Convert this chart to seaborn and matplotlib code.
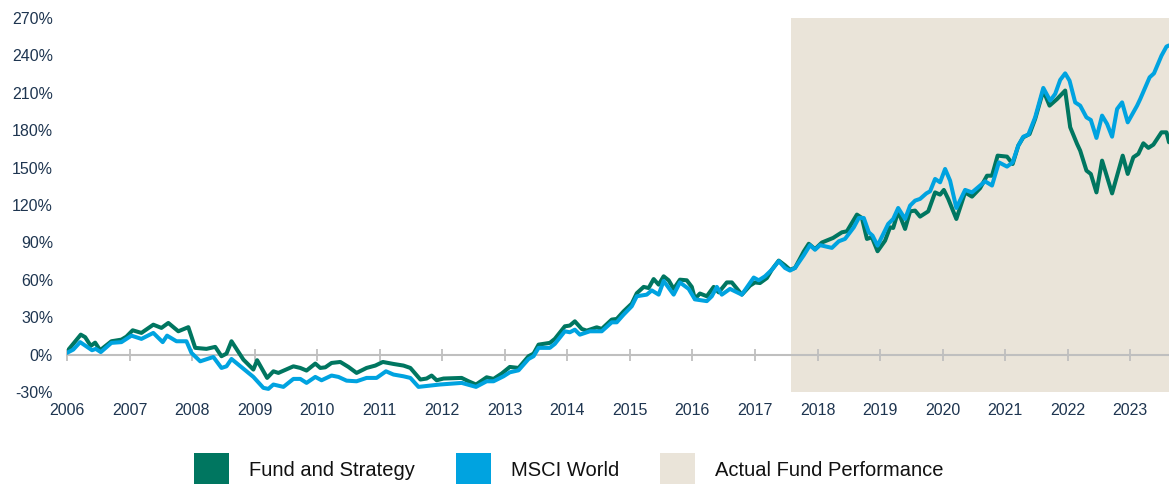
import pandas as pd
import matplotlib
matplotlib.use("Agg")
import matplotlib.pyplot as plt
from matplotlib.patches import Patch
import seaborn as sns

# === DATA (cumulative return, %) ===
fund_t = [2006.00, 2006.22, 2006.29, 2006.38, 2006.45, 2006.53, 2006.71, 2006.87, 2006.95,
          2007.05, 2007.19, 2007.38, 2007.51, 2007.62, 2007.78, 2007.94, 2008.05, 2008.23,
          2008.37, 2008.47, 2008.55, 2008.63, 2008.82, 2008.98, 2009.04, 2009.20, 2009.30,
          2009.38, 2009.62, 2009.73, 2009.83, 2009.97, 2010.05, 2010.13, 2010.23, 2010.37,
          2010.50, 2010.63, 2010.79, 2010.93, 2011.05, 2011.22, 2011.38, 2011.49, 2011.65,
          2011.75, 2011.83, 2011.91, 2012.02, 2012.31, 2012.42, 2012.54, 2012.71, 2012.82,
          2012.95, 2013.08, 2013.22, 2013.38, 2013.46, 2013.54, 2013.72, 2013.80, 2013.96,
          2014.04, 2014.12, 2014.23, 2014.31, 2014.47, 2014.55, 2014.71, 2014.79, 2014.90,
          2015.03, 2015.11, 2015.22, 2015.30, 2015.38, 2015.46, 2015.54, 2015.62, 2015.70,
          2015.80, 2015.91, 2015.99, 2016.04, 2016.12, 2016.23, 2016.34, 2016.42, 2016.55,
          2016.63, 2016.79, 2016.92, 2017.00, 2017.08, 2017.19, 2017.27, 2017.38, 2017.48,
          2017.56, 2017.64, 2017.78, 2017.86, 2017.96, 2018.07, 2018.25, 2018.39, 2018.47,
          2018.63, 2018.71, 2018.79, 2018.87, 2018.96, 2019.08, 2019.16, 2019.21, 2019.29,
          2019.40, 2019.48, 2019.56, 2019.64, 2019.77, 2019.88, 2019.96, 2020.02, 2020.09,
          2020.22, 2020.36, 2020.47, 2020.60, 2020.71, 2020.79, 2020.88, 2021.03, 2021.12,
          2021.21, 2021.29, 2021.39, 2021.48, 2021.61, 2021.71, 2021.83, 2021.96, 2022.04,
          2022.15, 2022.20, 2022.30, 2022.37, 2022.46, 2022.55, 2022.71, 2022.88, 2022.96,
          2023.05, 2023.13, 2023.21, 2023.29, 2023.37, 2023.50, 2023.58, 2023.62]
fund_v = [2.5, 16, 14, 7, 9.6, 3.5, 10.7, 12, 14.4,
          19.5, 17.4, 24, 21.4, 25.4, 18.7, 22, 5.4, 4.6,
          6.2, -1.3, 0.8, 10.7, -4, -12, -4.5, -18.7, -13.4,
          -14.7, -9.4, -10.7, -12.8, -7.2, -10.7, -10.2, -6.7, -5.9,
          -9.9, -14.7, -10.7, -8.8, -5.9, -7.5, -8.8, -10.7, -20,
          -19.2, -16.8, -20.6, -19.2, -18.7, -21.4, -24, -18.2, -19.5,
          -15.2, -9.9, -10.7, -1.3, 0.8, 8, 9.4, 12.6, 22.7,
          23.3, 26.7, 20.6, 19.2, 21.9, 20.6, 28.1, 28.6, 34.7,
          40.9, 49.2, 54.3, 53.4, 60.6, 56.1, 62.8, 59.6, 52.7,
          60.1, 59.6, 54.3, 44.7, 49, 46.8, 54.3, 49.9, 57.9,
          57.9, 48.1, 55.3, 57.9, 57.4, 61.4, 68.1, 75.4, 71.6,
          68.1, 69.5, 82.7, 88.9, 84.6, 89.9, 93.6, 98.1, 98.9,
          112.3, 109.6, 92.8, 94.1, 82.9, 91.4, 102.1, 101.6, 114.9,
          100.8, 114.9, 115.5, 110.7, 114.9, 130.1, 128.3, 132.1, 124.9,
          108.8, 130.1, 126.7, 133.5, 143.5, 143.5, 159.6, 158.8, 152.9,
          167.6, 174.3, 176.9, 189, 211.8, 199.7, 205, 211.8, 182.4,
          169, 163.6, 147.6, 144.9, 130.1, 155.6, 129.3, 159.6, 144.9,
          158.3, 161, 169.5, 165.8, 168.4, 178.3, 178.3, 170.3]

msci_t = [2006.00, 2006.10, 2006.21, 2006.40, 2006.46, 2006.54, 2006.71, 2006.87, 2007.03,
          2007.19, 2007.38, 2007.53, 2007.60, 2007.75, 2007.91, 2007.99, 2008.13, 2008.34,
          2008.47, 2008.55, 2008.63, 2008.87, 2008.98, 2009.14, 2009.22, 2009.30, 2009.46,
          2009.62, 2009.73, 2009.83, 2009.97, 2010.07, 2010.23, 2010.34, 2010.47, 2010.63,
          2010.79, 2010.95, 2011.10, 2011.22, 2011.38, 2011.49, 2011.62, 2011.80, 2011.96,
          2012.31, 2012.54, 2012.71, 2012.82, 2012.98, 2013.08, 2013.22, 2013.38, 2013.46,
          2013.54, 2013.72, 2013.80, 2013.96, 2014.04, 2014.12, 2014.20, 2014.36, 2014.55,
          2014.71, 2014.79, 2014.90, 2015.03, 2015.11, 2015.27, 2015.35, 2015.46, 2015.54,
          2015.70, 2015.80, 2015.94, 2016.04, 2016.23, 2016.31, 2016.39, 2016.47, 2016.60,
          2016.79, 2016.98, 2017.06, 2017.16, 2017.27, 2017.38, 2017.48, 2017.56, 2017.64,
          2017.78, 2017.88, 2017.96, 2018.04, 2018.23, 2018.34, 2018.44, 2018.58, 2018.66,
          2018.74, 2018.82, 2018.88, 2018.96, 2019.13, 2019.21, 2019.29, 2019.40, 2019.48,
          2019.56, 2019.64, 2019.74, 2019.80, 2019.88, 2019.96, 2020.04, 2020.12, 2020.22,
          2020.36, 2020.47, 2020.60, 2020.68, 2020.79, 2020.90, 2021.03, 2021.12, 2021.21,
          2021.29, 2021.37, 2021.48, 2021.61, 2021.72, 2021.80, 2021.88, 2021.96, 2022.03,
          2022.12, 2022.20, 2022.30, 2022.37, 2022.46, 2022.55, 2022.63, 2022.71, 2022.79,
          2022.87, 2022.96, 2023.11, 2023.16, 2023.31, 2023.38, 2023.50, 2023.58, 2023.62]
msci_v = [1.4, 4, 10, 3.5, 4.6, 2, 9.4, 10, 15.2,
          12.6, 17.4, 10, 15.2, 10.7, 10.7, 1.4, -5.4, -1.9,
          -10.7, -9.4, -3.5, -13.4, -17.9, -26.7, -27.5, -24, -25.9,
          -19.5, -19.5, -22.7, -17.9, -20.6, -16.8, -17.9, -20.9, -21.4,
          -18.7, -18.7, -13.4, -16, -17.4, -18.7, -25.9, -24.9, -24,
          -22.7, -25.9, -21.4, -21.4, -17.4, -14.2, -12.6, -3.5, -1.3,
          5.4, 5.4, 8.6, 18.7, 17.9, 20, 16, 18.7, 18.7,
          25.9, 25.9, 32.1, 38.8, 46.8, 48.1, 51.5, 48.1, 59.1,
          48.1, 57.9, 52.7, 44.3, 42.9, 46.8, 54.3, 48.1, 52.7,
          48.1, 61.8, 59.6, 62.8, 68.1, 75, 69.5, 67.4, 69.5,
          79.7, 87.8, 84.1, 87.8, 85.6, 90.9, 92.8, 102.1, 109.6,
          109.6, 98.1, 95.4, 87.4, 104.8, 108.8, 117.6, 108.8, 119.5,
          123.5, 124.9, 129.3, 131, 140.9, 138.2, 148.9, 139.5, 117.6,
          132.1, 130.1, 135.6, 139, 135.6, 154.2, 150.8, 154.2, 167.6,
          174.8, 176.4, 190.3, 213.9, 203.7, 209.1, 220.3, 225.6, 219.7,
          202.3, 199.7, 190.3, 188.2, 173.8, 191.7, 185, 174.8, 197,
          202.3, 186.3, 199.7, 205, 222.4, 225.6, 239.8, 247.1, 248]

series_names = ["Fund and Strategy", "MSCI World"]
legend_labels = ["Fund and Strategy", "MSCI World", "Actual Fund Performance"]
actual_fund_start = 2017.57
year_ticks = list(range(2006, 2024))
pct_ticks = list(range(-30, 271, 30))

GREEN = "#007660"
BLUE = "#00A3E0"
BEIGE = "#EAE4D9"
TEXT = "#1E3550"

df = pd.concat([
    pd.DataFrame({"t": fund_t, "value": fund_v, "series": series_names[0]}),
    pd.DataFrame({"t": msci_t, "value": msci_v, "series": series_names[1]}),
], ignore_index=True)

sns.set_style("white")
plt.rcParams["font.family"] = ["Liberation Sans", "DejaVu Sans"]

fig = plt.figure(figsize=(11.69, 4.84), dpi=100)
ax = fig.add_axes([67 / 1169, 1 - 392 / 484, 1 - 67 / 1169, (392 - 18) / 484])

# shaded period = actual fund track record
ax.axvspan(actual_fund_start, 2030, color=BEIGE, lw=0, zorder=0)

sns.lineplot(data=df, x="t", y="value", hue="series", palette=[GREEN, BLUE],
             hue_order=series_names, estimator=None, sort=False,
             linewidth=2.9, legend=False, ax=ax, zorder=3)
for line in ax.get_lines():
    line.set_solid_joinstyle("round")

ax.set_xlim(2006, 2023.62)
ax.set_ylim(-30, 270)
ax.set_xticks(year_ticks)
ax.set_xticklabels([str(y) for y in year_ticks])
ax.set_yticks(pct_ticks)
ax.set_yticklabels([f"{p}%" for p in pct_ticks])
ax.set_xlabel("")
ax.set_ylabel("")

for s in ["top", "right", "left"]:
    ax.spines[s].set_visible(False)
ax.spines["bottom"].set_position(("data", 0))
ax.spines["bottom"].set_color("#BFBFBF")
ax.spines["bottom"].set_linewidth(1.5)
ax.spines["bottom"].set_zorder(2)

ax.tick_params(axis="x", bottom=True, direction="inout", length=8, width=1.3,
               color="#BFBFBF", pad=31, labelsize=11.5, labelcolor=TEXT)
ax.tick_params(axis="y", left=False, length=0, pad=10, labelsize=11.5, labelcolor=TEXT)
ax.grid(False)

handles = [Patch(facecolor=GREEN, edgecolor="none"),
           Patch(facecolor=BLUE, edgecolor="none"),
           Patch(facecolor=BEIGE, edgecolor="none")]
fig.legend(handles, legend_labels, loc="center", bbox_to_anchor=(0.4865, 0.029), ncol=3,
           frameon=False, fontsize=14.5, handlelength=1.72, handleheight=2.25,
           handletextpad=1.0, columnspacing=2.05, borderpad=0, labelcolor="#111111")

fig.savefig("out.png", dpi=100)
